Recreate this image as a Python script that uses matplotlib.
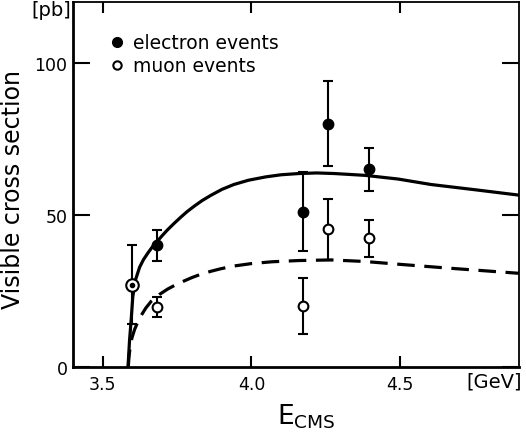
import matplotlib
matplotlib.use("Agg")
import matplotlib.pyplot as plt
from matplotlib.lines import Line2D

plt.rcParams['font.family'] = ['DejaVu Sans']

# electron events (filled)
e_energy = [3.684, 4.172, 4.259, 4.396]
e_sigma = [40, 51, 80, 65]
e_err = [5, 13, 14, 7]

# muon events (open)
mu_energy = [3.684, 4.172, 4.259, 4.396]
mu_sigma = [19.7, 20, 45.3, 42.3]
mu_err = [3.3, 9.3, 10, 6]

# lowest energy point, electrons and muons together
both_energy = [3.600]
both_sigma = [27]
both_err = [13]

# model curves
e_curve_energy = [3.585, 3.590, 3.596, 3.601, 3.610, 3.624, 3.637, 3.652,
                  3.667, 3.683, 3.701, 3.718, 3.741, 3.763, 3.784, 3.808,
                  3.834, 3.863, 3.901, 3.941, 3.990, 4.048, 4.100, 4.159,
                  4.220, 4.280, 4.383, 4.493, 4.604, 4.750, 4.900]
e_curve = [0, 8.5, 16.0, 23.0, 28.6, 32.8, 35.3, 37.5,
           39.5, 41.3, 43.3, 45.1, 47.3, 49.3, 51.1, 52.9,
           54.7, 56.4, 58.4, 60.0, 61.4, 62.5, 63.2, 63.6,
           63.8, 63.6, 63.0, 61.8, 60.0, 58.3, 56.5]
mu_curve_energy = [3.586, 3.588, 3.592, 3.598, 3.607, 3.617, 3.629, 3.645,
                   3.663, 3.690, 3.718, 3.745, 3.774, 3.800, 3.830, 3.865,
                   3.897, 3.941, 4.000, 4.070, 4.159, 4.269, 4.380, 4.493,
                   4.650, 4.900]
mu_curve = [0, 3.0, 6.5, 9.5, 12.3, 14.6, 16.9, 19.4,
            21.6, 23.8, 25.6, 27.0, 28.3, 29.4, 30.5, 31.5,
            32.3, 33.2, 34.0, 34.6, 35.0, 35.2, 34.7, 33.8,
            32.6, 30.8]

fig = plt.figure(figsize=(5.26, 4.39), dpi=100)
ax = fig.add_axes([73 / 526, 1 - 368 / 439, 446 / 526, 365 / 439])

ax.plot(e_curve_energy, e_curve, color='black', lw=2.3)
ax.plot(mu_curve_energy, mu_curve, color='black', lw=2.3, dashes=(5.5, 3))

bar_style = dict(ecolor='black', elinewidth=1.5, capsize=3.5, capthick=1.5,
                 zorder=3)
ax.errorbar(e_energy, e_sigma, yerr=e_err, fmt='o', ms=7.5, mfc='black',
            mec='black', **bar_style)
ax.errorbar(mu_energy, mu_sigma, yerr=mu_err, fmt='o', ms=7, mfc='white',
            mec='black', mew=1.5, **bar_style)
ax.errorbar(both_energy, both_sigma, yerr=both_err, fmt='o', ms=9,
            mfc='white', mec='black', mew=1.5, **bar_style)
ax.plot(both_energy, both_sigma, 'o', ms=3, color='black', zorder=4)

ax.set_xlim(3.4, 4.9)
ax.set_ylim(0, 120)
ax.set_xticks([3.5, 4.0, 4.5])
ax.set_xticklabels(['3.5', '4.0', '4.5'])
ax.set_yticks([0, 50, 100])
ax.tick_params(direction='in', length=8, width=1.5, labelsize=12.5,
               top=True, right=True, pad=6)
ax.tick_params(axis='y', length=12, pad=4)
for side in ['left', 'bottom']:
    ax.spines[side].set_linewidth(2)
for side in ['top', 'right']:
    ax.spines[side].set_linewidth(1.3)

ax.set_ylabel('Visible cross section', fontsize=17)
ax.yaxis.set_label_coords(-0.108, 0.49)

handles = [
    Line2D([], [], ls='none', marker='o', ms=7, mfc='black', mec='black'),
    Line2D([], [], ls='none', marker='o', ms=6, mfc='white', mec='black',
           mew=1.5),
]
ax.legend(handles, ['electron events', 'muon events'], loc='upper left',
          bbox_to_anchor=(0.035, 0.96), frameon=False, fontsize=13.5,
          handletextpad=0.25, handlelength=1.2, labelspacing=0.2)

fig.text(71 / 526, 1 - 1 / 439, '[pb]', ha='right', va='top', fontsize=14)
fig.text(522 / 526, 1 - 373 / 439, '[GeV]', ha='right', va='top', fontsize=14)
fig.text(306 / 526, 1 - 403 / 439, r'E$_{\mathregular{CMS}}$', ha='center',
         va='top', fontsize=19)

fig.savefig('out.png', dpi=100)
